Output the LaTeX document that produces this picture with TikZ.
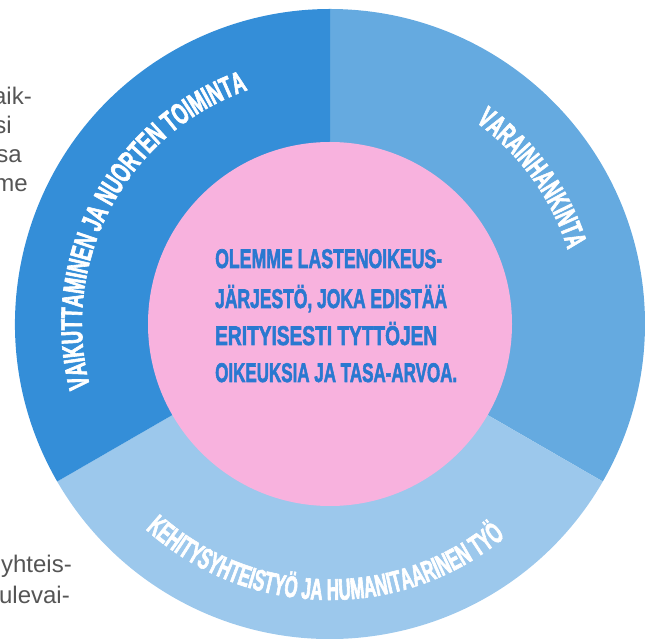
\documentclass[tikz,border=0pt]{standalone}
\usepackage{fontspec}
\setmainfont{Liberation Sans}
\usetikzlibrary{decorations.text}
\newfontfamily\arcA{Liberation Sans}[FakeStretch=0.61,FakeBold=2]
\newfontfamily\arcB{Liberation Sans}[FakeStretch=0.59,FakeBold=2]
\newfontfamily\arcC{Liberation Sans}[FakeStretch=0.56,FakeBold=2]
\newfontfamily\midfont{Liberation Sans}[FakeBold=2.5]
\definecolor{cleft}{HTML}{348ED8}
\definecolor{cright}{HTML}{65AAE0}
\definecolor{cbottom}{HTML}{9CC8EC}
\definecolor{cpink}{HTML}{F8B2DE}
\definecolor{ctext}{HTML}{2A78D0}
\definecolor{cgray}{HTML}{555555}
\tikzset{
  centerline/.style={anchor=base west, inner sep=0pt, text=ctext, font=\midfont\bfseries\fontsize{27}{27}\selectfont},
  sidetext/.style={anchor=base east, inner sep=0pt, text=cgray, font=\fontsize{24}{24}\selectfont},
}
\begin{document}
\begin{tikzpicture}[x=1pt,y=1pt]
\useasboundingbox (0,0) rectangle (645,639);
% side text fragments
\node[sidetext] (t1) at (32,534) {aik-};
\node[sidetext] (t2) at (12,505) {si};
\node[sidetext] (t3) at (22,476) {sa};
\node[sidetext] (t4) at (28,447) {me};
\node[sidetext] (t5) at (72,66) {yhteis-};
\node[sidetext] (t6) at (70,35) {ulevai-};
% sectors
\begin{scope}[shift={(330,315)}]
\fill[cright] (0,0) -- (90:315pt) arc[start angle=90, end angle=-30, radius=315pt] -- cycle;
\fill[cbottom] (0,0) -- (-30:315pt) arc[start angle=-30, end angle=-150, radius=315pt] -- cycle;
\fill[cleft] (0,0) -- (210:315pt) arc[start angle=210, end angle=90, radius=315pt] -- cycle;
\fill[cpink] (0,0) circle[radius=182pt];
\path[decorate, decoration={text along path, text align=center,
  text={|\arcA\bfseries\fontsize{30}{30}\selectfont\color{white}|VAIKUTTAMINEN JA NUORTEN TOIMINTA}}]
  (196:248pt) arc[start angle=196, end angle=108, radius=248pt];
\path[decorate, decoration={text along path, text align=center,
  text={|\arcB\bfseries\fontsize{30}{30}\selectfont\color{white}|VARAINHANKINTA}}]
  (54.5:249pt) arc[start angle=54.5, end angle=17, radius=249pt];
\path[decorate, decoration={text along path, text align=center,
  text={|\arcC\bfseries\fontsize{30}{30}\selectfont\color{white}|KEHITYSYHTEISTYÖ JA HUMANITAARINEN TYÖ}}]
  (228:276pt) arc[start angle=228, end angle=309.5, radius=276pt];
\end{scope}
% centre text
\node[centerline] (c1) at (215,371) {\resizebox{227pt}{\height}{OLEMME LASTENOIKEUS-}};
\node[centerline] (c2) at (215,331) {\resizebox{232pt}{\height}{JÄRJESTÖ, JOKA EDISTÄÄ}};
\node[centerline] (c3) at (215,294) {\resizebox{222pt}{\height}{ERITYISESTI TYTTÖJEN}};
\node[centerline] (c4) at (215,257) {\resizebox{242pt}{\height}{OIKEUKSIA JA TASA-ARVOA.}};
\end{tikzpicture}
\end{document}
